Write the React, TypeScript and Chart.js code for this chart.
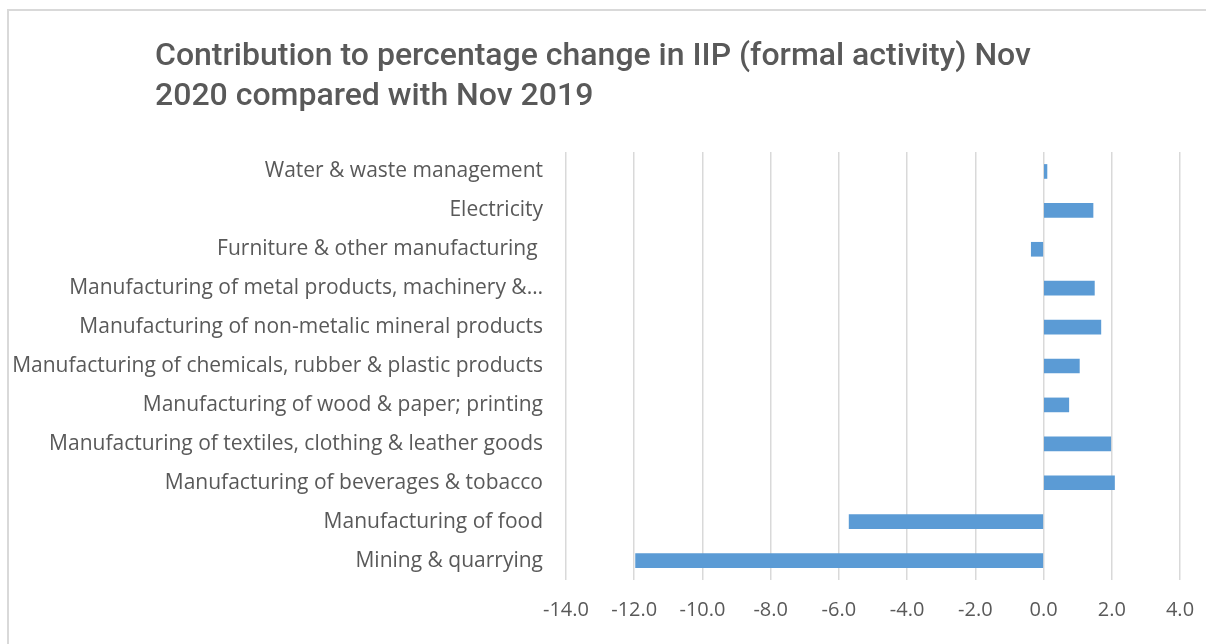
import React, { useEffect, useRef } from "react";
import { Chart, registerables } from "chart.js";

Chart.register(...registerables);

const titleLines: string[] = [
  "Contribution to percentage change in IIP (formal activity) Nov",
  "2020 compared with Nov 2019",
];

const categories: string[] = [
  "Water & waste management",
  "Electricity",
  "Furniture & other manufacturing ",
  "Manufacturing of metal products, machinery &…",
  "Manufacturing of non-metalic mineral products",
  "Manufacturing of chemicals, rubber & plastic products",
  "Manufacturing of wood & paper; printing",
  "Manufacturing of textiles, clothing & leather goods",
  "Manufacturing of beverages & tobacco",
  "Manufacturing of food",
  "Mining & quarrying",
];

const contributions: number[] = [0.1, 1.45, -0.36, 1.49, 1.68, 1.05, 0.74, 1.97, 2.08, -5.7, -11.96];

const xMin = -14;
const xMax = 4;
const xStep = 2;

export default function App() {
  const canvasRef = useRef<HTMLCanvasElement | null>(null);

  useEffect(() => {
    document.body.style.overflow = "hidden";
    const canvas = canvasRef.current;
    if (!canvas) return;
    const chart = new Chart(canvas, {
      type: "bar",
      data: {
        labels: categories,
        datasets: [
          {
            data: contributions,
            backgroundColor: "#5b9bd5",
            borderWidth: 0,
            barThickness: 14,
          },
        ],
      },
      options: {
        indexAxis: "y",
        responsive: false,
        animation: false,
        layout: { padding: { top: 152, right: 26, bottom: 0, left: 0 } },
        plugins: {
          legend: { display: false },
          tooltip: { enabled: false },
          title: { display: false },
        },
        scales: {
          x: {
            min: xMin,
            max: xMax,
            ticks: {
              stepSize: xStep,
              color: "#595959",
              font: { family: "Open Sans", size: 20 },
              padding: 18,
              callback: (v: any) => Number(v).toFixed(1),
            },
            grid: { color: "#d9d9d9", lineWidth: 1.5, drawTicks: false },
            border: { display: false },
            afterFit: (s: any) => {
              s.height = 64;
              s.paddingLeft = 0;
              s.paddingRight = 0;
            },
          },
          y: {
            ticks: {
              color: "#595959",
              font: { family: "Open Sans", size: 21 },
              padding: 23,
            },
            grid: { display: false, drawTicks: false },
            border: { display: false },
            afterFit: (s: any) => {
              s.width = 566;
              s.paddingTop = 0;
              s.paddingBottom = 0;
            },
          },
        },
      },
    });
    return () => chart.destroy();
  }, []);

  return (
    <div>
      <div
        style={{
          position: "fixed",
          left: 7,
          top: 9,
          width: 1300,
          height: 700,
          border: "2px solid #d9d9d9",
          boxSizing: "border-box",
        }}
      />
      <canvas
        ref={canvasRef}
        width={1206}
        height={644}
        style={{ position: "fixed", left: 0, top: 0, width: 1206, height: 644 }}
      />
      <div
        style={{
          position: "fixed",
          left: 155,
          top: 34,
          fontFamily: "Roboto",
          fontWeight: 500,
          fontSize: 32,
          lineHeight: "40px",
          color: "#595959",
          whiteSpace: "nowrap",
        }}
      >
        {titleLines.map((t, i) => (
          <div key={i}>{t}</div>
        ))}
      </div>
    </div>
  );
}
